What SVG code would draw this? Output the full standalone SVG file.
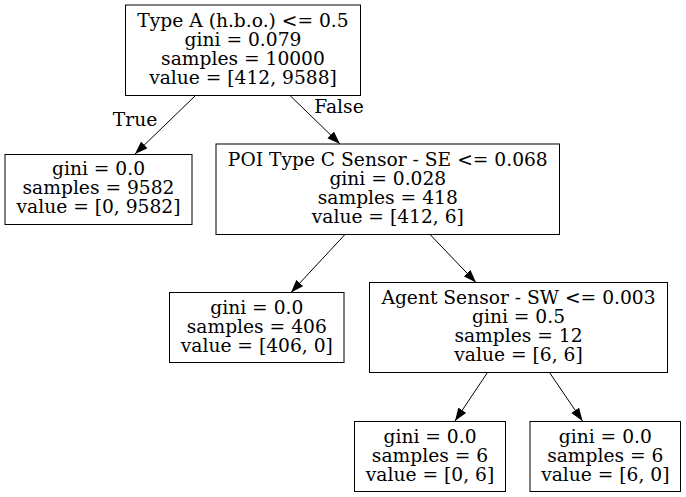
<svg xmlns="http://www.w3.org/2000/svg" width="686" height="497" viewBox="0 0 686 497">
<style>
.n rect{fill:#fff;stroke:#000;stroke-width:1}
text{font-family:"DejaVu Serif","Liberation Serif",serif;font-size:18.67px;text-anchor:middle;fill:#000}
.e line{stroke:#000;stroke-width:1}
</style>
<defs>
<marker id="a" markerUnits="userSpaceOnUse" markerWidth="14" markerHeight="10" refX="13" refY="4.7" orient="auto">
<path d="M0,0 L13,4.7 L0,9.4 z" fill="#000"/>
</marker>
</defs>
<rect width="686" height="497" fill="#fff"/>
<g id="edges" class="e">
<line x1="195.5" y1="95.5" x2="135" y2="154" marker-end="url(#a)"/>
<line x1="290" y1="95.5" x2="340" y2="144" marker-end="url(#a)"/>
<line x1="345" y1="234.5" x2="291" y2="292.5" marker-end="url(#a)"/>
<line x1="430" y1="234.5" x2="476" y2="282.5" marker-end="url(#a)"/>
<line x1="487.5" y1="372.5" x2="455" y2="421" marker-end="url(#a)"/>
<line x1="549.5" y1="372.5" x2="582.5" y2="421" marker-end="url(#a)"/>
<text x="135" y="126">True</text>
<text x="339" y="113">False</text>
</g>
<g id="n0" class="n">
<rect x="125.5" y="5" width="235" height="90.5"/>
<text x="243" y="26.5">Type A (h.b.o.) &lt;= 0.5</text>
<text x="243" y="45.5">gini = 0.079</text>
<text x="243" y="64.5">samples = 10000</text>
<text x="243" y="83.5">value = [412, 9588]</text>
</g>
<g id="n1" class="n">
<rect x="5" y="154.5" width="187" height="70"/>
<text x="98.5" y="175">gini = 0.0</text>
<text x="98.5" y="194">samples = 9582</text>
<text x="98.5" y="213">value = [0, 9582]</text>
</g>
<g id="n2" class="n">
<rect x="216" y="144" width="343.5" height="90.5"/>
<text x="387.8" y="165.5">POI Type C Sensor - SE &lt;= 0.068</text>
<text x="387.8" y="184.5">gini = 0.028</text>
<text x="387.8" y="203.5">samples = 418</text>
<text x="387.8" y="222.5">value = [412, 6]</text>
</g>
<g id="n3" class="n">
<rect x="169.5" y="292.5" width="174.5" height="70"/>
<text x="256.8" y="313.5">gini = 0.0</text>
<text x="256.8" y="332.5">samples = 406</text>
<text x="256.8" y="351.5">value = [406, 0]</text>
</g>
<g id="n4" class="n">
<rect x="369.5" y="282.5" width="298" height="90"/>
<text x="518.5" y="304">Agent Sensor - SW &lt;= 0.003</text>
<text x="518.5" y="323">gini = 0.5</text>
<text x="518.5" y="342">samples = 12</text>
<text x="518.5" y="361">value = [6, 6]</text>
</g>
<g id="n5" class="n">
<rect x="354.5" y="421.5" width="151" height="70"/>
<text x="430" y="442.5">gini = 0.0</text>
<text x="430" y="461.5">samples = 6</text>
<text x="430" y="480.5">value = [0, 6]</text>
</g>
<g id="n6" class="n">
<rect x="530" y="421.5" width="150.5" height="70"/>
<text x="605.3" y="442.5">gini = 0.0</text>
<text x="605.3" y="461.5">samples = 6</text>
<text x="605.3" y="480.5">value = [6, 0]</text>
</g>
</svg>
